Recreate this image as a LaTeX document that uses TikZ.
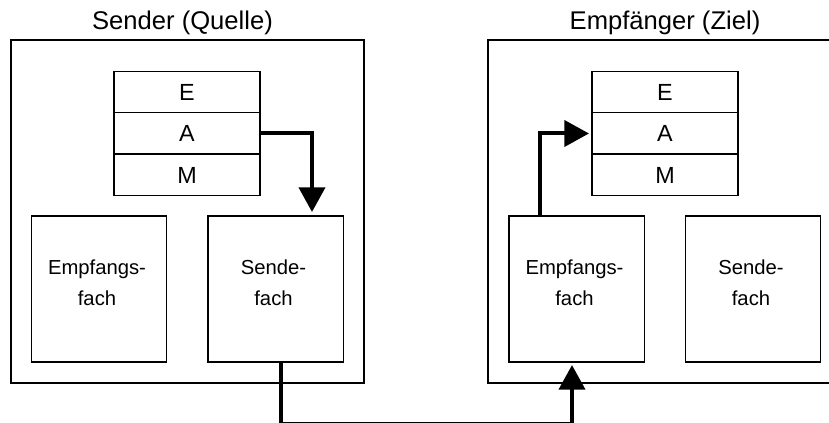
\documentclass[tikz,border=0pt]{standalone}
\usepackage{fontspec}
\setmainfont{Liberation Sans}
\usetikzlibrary{arrows.meta}
\begin{document}
\begin{tikzpicture}[x=0.75pt,y=-0.75pt,
  outerbox/.style={draw,line width=1.1pt,minimum width=264.75pt,minimum height=257.25pt,inner sep=0pt},
  rowbox/.style={draw,line width=1.1pt,minimum width=109.5pt,minimum height=31.1pt,inner sep=0pt,font=\fontsize{17.5}{20}\selectfont},
  fachbox/.style={draw,line width=1.1pt,minimum width=101.6pt,minimum height=109.5pt,inner sep=0pt},
  fachtext/.style={align=center,font=\fontsize{15.2}{23.2}\selectfont,inner sep=0pt},
  titletext/.style={font=\fontsize{19.2}{22}\selectfont,inner sep=0pt},
  flow/.style={line width=3pt,-{Triangle[width=19.5pt,length=18.5pt]}},
  flowline/.style={line width=3pt}
]
\clip (0,0) rectangle (829,423);
\useasboundingbox (0,0) rectangle (829,423);
% Sender
\node[outerbox] (outL) at (187.5,211.5) {};
\node[titletext] (titL) at (182.5,23) {Sender (Quelle)};
\node[rowbox] (eL) at (187,92) {E};
\node[rowbox] (aL) at (187,133.5) {A};
\node[rowbox] (mL) at (187,175) {M};
\node[fachbox] (empfL) at (99,289) {};
\node[fachtext] (empfLt) at (97,282.5) {Empfangs-\\fach};
\node[fachbox] (sendL) at (275.5,289) {};
\node[fachtext] (sendLt) at (273.5,282.5) {Sende-\\fach};
% Empfaenger
\node[outerbox] (outR) at (664.5,211.5) {};
\node[titletext] (titR) at (665,23) {Empfänger (Ziel)};
\node[rowbox] (eR) at (665,92) {E};
\node[rowbox] (aR) at (665,133.5) {A};
\node[rowbox] (mR) at (665,175) {M};
\node[fachbox] (empfR) at (576.5,289) {};
\node[fachtext] (empfRt) at (574.5,282.5) {Empfangs-\\fach};
\node[fachbox] (sendR) at (753,289) {};
\node[fachtext] (sendRt) at (751,282.5) {Sende-\\fach};
% connectors
\coordinate (tipL) at (312,212);
\draw[flow] (aL.east) -| (tipL);
\coordinate (startR) at (540,216);
\coordinate (tipR) at (589,133.5);
\draw[flow] (startR) |- (tipR);
\coordinate (botL) at (281,362);
\coordinate (cornL) at (281,424.2);
\coordinate (tipB) at (572,365);
\draw[flow] (botL) -- (cornL) -| (tipB);
\end{tikzpicture}
\end{document}
